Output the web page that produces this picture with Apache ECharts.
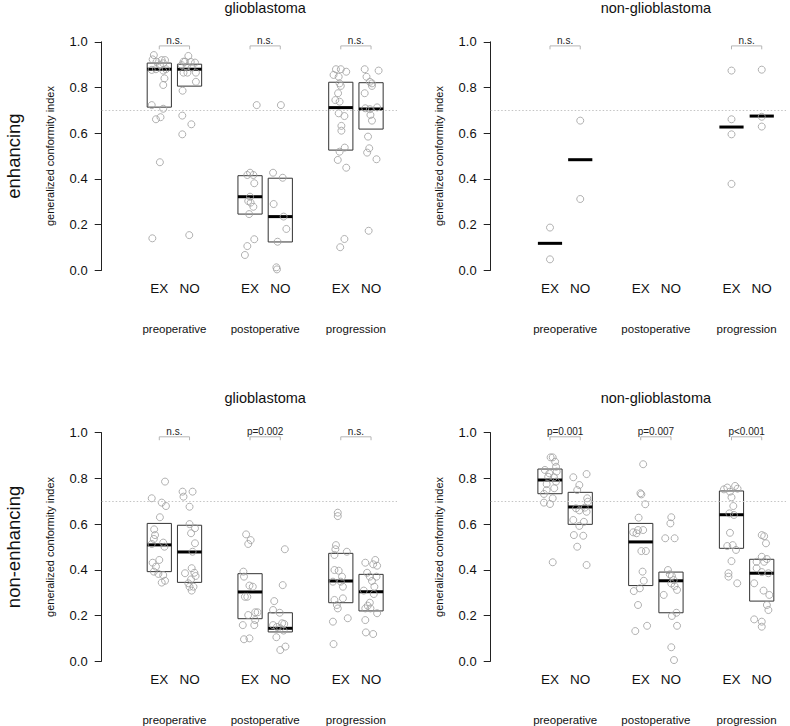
<!DOCTYPE html>
<html>
<head>
<meta charset="utf-8">
<script src="https://cdn.jsdelivr.net/npm/echarts@6/dist/echarts.min.js"></script>
<style>
html,body{margin:0;padding:0;background:#fff;}
#c{width:790px;height:726px;}
</style>
</head>
<body>
<div id="c"></div>
<script>
// ---------------- DATA ----------------
const arms = ['EX', 'NO', 'EX', 'NO', 'EX', 'NO'];
const groupPos = [1, 2, 4, 5, 7, 8];
const phases = ['preoperative', 'postoperative', 'progression'];
const phasePos = [1.5, 4.5, 7.5];
const colTitles = ['glioblastoma', 'non-glioblastoma'];
const rowTitles = ['enhancing', 'non-enhancing'];
const yTicks = [0, 0.2, 0.4, 0.6, 0.8, 1.0];
const threshold = 0.7;
const yLabel = 'generalized conformity index';

// glioblastoma / enhancing
const gEnhPreEX = [0.942,0.923,0.913,0.920,0.920,0.906,0.898,0.877,0.880,0.874,0.880,0.840,0.811,0.723,0.707,0.670,0.661,0.473,0.140];
const gEnhPreEXJit = [-0.18,-0.22,-0.09,0.08,0.19,0.13,0.02,-0.25,-0.11,0.13,0.22,0.17,0.13,-0.25,0.13,0.04,-0.11,0.02,-0.23];
const gEnhPreNO = [0.938,0.913,0.913,0.912,0.909,0.898,0.891,0.888,0.865,0.865,0.865,0.825,0.786,0.677,0.639,0.595,0.154];
const gEnhPreNOJit = [-0.04,-0.20,-0.15,0.04,0.18,-0.26,-0.09,0.07,-0.20,-0.07,0.21,0.21,-0.23,-0.24,0.06,-0.24,-0.01];
const gEnhPostEX = [0.723,0.427,0.417,0.417,0.381,0.322,0.303,0.296,0.278,0.246,0.136,0.106,0.067];
const gEnhPostEXJit = [0.22,0,-0.09,0.11,0.14,0,-0.06,0.02,0.11,-0.03,0.14,-0.09,-0.17];
const gEnhPostNO = [0.723,0.427,0.405,0.290,0.235,0.181,0.125,0.013,0.004];
const gEnhPostNOJit = [0.02,-0.24,0.08,-0.22,0.11,0.20,-0.09,-0.13,-0.11];
const gEnhProgEX = [0.880,0.880,0.869,0.855,0.847,0.818,0.807,0.775,0.745,0.738,0.687,0.675,0.632,0.611,0.537,0.519,0.483,0.449,0.137,0.101];
const gEnhProgEXJit = [-0.16,0,0.18,-0.24,-0.07,-0.04,0,-0.09,-0.18,-0.04,-0.07,0.12,0.02,0.02,0.13,-0.04,-0.10,0.18,0.12,-0.02];
const gEnhProgNO = [0.880,0.874,0.847,0.825,0.818,0.807,0.775,0.709,0.705,0.713,0.680,0.655,0.585,0.534,0.515,0.486,0.173];
const gEnhProgNOJit = [-0.21,0.25,-0.15,-0.04,0.03,0.03,-0.21,-0.19,-0.04,0.20,-0.02,0.03,-0.10,-0.06,-0.13,0.18,-0.08];
const gEnhBoxes = [[0.714,0.880,0.907],[0.806,0.880,0.902],[0.246,0.322,0.414],[0.124,0.235,0.403],[0.526,0.712,0.823],[0.618,0.706,0.821]];
const gEnhTests = ['n.s.', 'n.s.', 'n.s.'];

// non-glioblastoma / enhancing
const nEnhPreEX = [0.187,0.048];
const nEnhPreNO = [0.655,0.312];
const nEnhPostEX = [];
const nEnhPostNO = [];
const nEnhProgEX = [0.874,0.661,0.595,0.378];
const nEnhProgNO = [0.878,0.672,0.629];
const nEnhMedians = [0.118,0.484,null,null,0.627,0.675];
const nEnhTests = ['n.s.', null, 'n.s.'];

// glioblastoma / non-enhancing
const gNonPreEX = [0.786,0.713,0.694,0.679,0.630,0.577,0.552,0.535,0.519,0.501,0.513,0.443,0.431,0.414,0.392,0.382,0.377,0.344,0.352];
const gNonPreEXJit = [0.19,-0.25,0.08,0.22,0.02,-0.17,-0.14,-0.18,0.13,0.17,-0.25,0,-0.22,-0.11,-0.18,-0.03,0.13,0.08,0.19];
const gNonPreNO = [0.742,0.742,0.720,0.676,0.600,0.582,0.560,0.516,0.479,0.407,0.385,0.387,0.358,0.373,0.341,0.326,0.326,0.309];
const gNonPreNOJit = [-0.23,0.10,-0.20,0,0,0.18,0.05,0.18,0.10,0.07,-0.15,0.16,0.05,0.20,-0.04,0,0.13,0.07];
const gNonPostEX = [0.555,0.530,0.513,0.392,0.370,0.331,0.326,0.282,0.282,0.214,0.214,0.202,0.180,0.158,0.158,0.096,0.100];
const gNonPostEXJit = [-0.13,0.02,-0.06,-0.22,-0.20,-0.02,0.09,-0.17,-0.09,0.17,0.25,-0.06,0.17,-0.24,0.14,-0.20,-0.02];
const gNonPostNO = [0.490,0.333,0.263,0.224,0.212,0.158,0.166,0.163,0.144,0.134,0.105,0.049,0.064,0.150];
const gNonPostNOJit = [0.15,0.08,-0.20,-0.24,-0.02,-0.24,0.06,0.13,0,0.11,-0.13,0,0.17,-0.11];
const gNonProgEX = [0.650,0.635,0.508,0.490,0.479,0.465,0.399,0.396,0.370,0.348,0.326,0.348,0.268,0.275,0.246,0.231,0.173,0.188,0.075];
const gNonProgEXJit = [-0.10,-0.10,-0.16,-0.18,0.20,-0.21,-0.21,-0.07,0.04,-0.26,0.07,0,-0.21,0.07,-0.13,-0.10,-0.26,0.23,-0.24];
const gNonProgNO = [0.431,0.443,0.424,0.418,0.387,0.370,0.370,0.351,0.326,0.309,0.294,0.256,0.243,0.231,0.231,0.210,0.180,0.126,0.119];
const gNonProgNOJit = [-0.19,0.14,0.07,0.20,-0.13,-0.04,0.18,0.03,0.11,-0.24,0.09,-0.04,-0.11,-0.02,-0.19,0.20,-0.19,-0.17,0.07];
const gNonBoxes = [[0.392,0.509,0.603],[0.345,0.478,0.595],[0.186,0.303,0.383],[0.128,0.144,0.212],[0.256,0.351,0.472],[0.220,0.304,0.380]];
const gNonTests = ['n.s.', 'p=0.002', 'n.s.'];

// non-glioblastoma / non-enhancing
const nNonPreEX = [0.892,0.892,0.873,0.851,0.837,0.822,0.830,0.807,0.805,0.786,0.775,0.757,0.749,0.732,0.713,0.694,0.688,0.433];
const nNonPreEXJit = [0.02,0.09,0.17,0.20,-0.17,-0.02,0.22,-0.06,0.13,0.20,-0.11,0.14,-0.11,-0.20,0.09,-0.20,0,0.09];
const nNonPreNO = [0.819,0.805,0.771,0.749,0.713,0.698,0.669,0.672,0.660,0.654,0.618,0.610,0.592,0.552,0.549,0.501,0.421];
const nNonPreNOJit = [0.21,-0.23,-0.03,-0.10,0.23,0.25,-0.14,0.15,-0.03,0.21,-0.23,0.12,-0.03,-0.21,0.10,-0.10,0.21];
const nNonPostEX = [0.862,0.735,0.730,0.687,0.628,0.564,0.574,0.574,0.560,0.482,0.482,0.392,0.352,0.319,0.307,0.246,0.155,0.132];
const nNonPostEXJit = [0.08,-0.01,0.02,0.15,-0.07,-0.25,-0.09,0.08,-0.14,0.02,0.17,0.06,0.10,-0.03,-0.23,-0.09,0.21,-0.18];
const nNonPostNO = [0.630,0.603,0.538,0.538,0.399,0.380,0.373,0.355,0.340,0.329,0.312,0.290,0.212,0.198,0.155,0.061,0.005];
const nNonPostNOJit = [0.01,-0.02,-0.19,0.12,-0.10,-0.04,0.03,0.09,0.01,0.12,0.20,-0.24,0.18,0.03,0.20,0.01,0.10];
const nNonProgEX = [0.752,0.760,0.767,0.755,0.742,0.717,0.679,0.647,0.640,0.562,0.504,0.508,0.487,0.438,0.385,0.370,0.341];
const nNonProgEXJit = [-0.25,-0.14,0.12,0.20,-0.05,0,0.06,-0.07,0.08,-0.05,-0.14,0.04,0.15,0,-0.10,-0.10,0.19];
const nNonProgNO = [0.552,0.547,0.516,0.457,0.447,0.435,0.435,0.407,0.390,0.385,0.341,0.309,0.290,0.246,0.224,0.183,0.173,0.151];
const nNonProgNOJit = [0,0.08,0.14,0,0.17,-0.17,0.08,-0.17,0,0.22,-0.25,0.06,0.25,0.17,0.22,-0.25,0,0];
const nNonBoxes = [[0.733,0.793,0.841],[0.599,0.675,0.739],[0.331,0.522,0.603],[0.212,0.352,0.390],[0.494,0.641,0.745],[0.263,0.385,0.446]];
const nNonTests = ['p=0.001', 'p=0.007', 'p<0.001'];

// panels in order: top-left, top-right, bottom-left, bottom-right
const panelValues = [
  [gEnhPreEX, gEnhPreNO, gEnhPostEX, gEnhPostNO, gEnhProgEX, gEnhProgNO],
  [nEnhPreEX, nEnhPreNO, nEnhPostEX, nEnhPostNO, nEnhProgEX, nEnhProgNO],
  [gNonPreEX, gNonPreNO, gNonPostEX, gNonPostNO, gNonProgEX, gNonProgNO],
  [nNonPreEX, nNonPreNO, nNonPostEX, nNonPostNO, nNonProgEX, nNonProgNO]
];
const panelJitter = [
  [gEnhPreEXJit, gEnhPreNOJit, gEnhPostEXJit, gEnhPostNOJit, gEnhProgEXJit, gEnhProgNOJit],
  null,
  [gNonPreEXJit, gNonPreNOJit, gNonPostEXJit, gNonPostNOJit, gNonProgEXJit, gNonProgNOJit],
  [nNonPreEXJit, nNonPreNOJit, nNonPostEXJit, nNonPostNOJit, nNonProgEXJit, nNonProgNOJit]
];
const panelBoxes = [gEnhBoxes, null, gNonBoxes, nNonBoxes];
const panelMedians = [null, nEnhMedians, null, null];
const panelTests = [gEnhTests, nEnhTests, gNonTests, nNonTests];

// ---------------- LAYOUT ----------------
const gridLeft = [101.7, 490.7];
const gridTop = [41.8, 432.7];
const gridW = 295.3, gridH = 228.5;
const unitPx = 30.25;
const xMin = [-0.904, -0.96];
const FONT = '"Liberation Sans", Arial, Helvetica, sans-serif';
const boxHalf = 0.4;
const bracketY = 0.982, bracketTickY = 0.967, testTextY = 1.007;
const armLabelY = -0.079, phaseLabelY = -0.256;

const chart = echarts.init(document.getElementById('c'), null, {renderer: 'svg'});

const grids = [], xAxes = [], yAxes = [], series = [], graphics = [];

for (let p = 0; p < 4; p++) {
  const row = Math.floor(p / 2), col = p % 2;
  grids.push({left: gridLeft[col], top: gridTop[row], width: gridW, height: gridH, containLabel: false});
  xAxes.push({type: 'value', gridIndex: p, min: xMin[col], max: xMin[col] + gridW / unitPx, show: false,
    axisLine: {onZero: false}});
  yAxes.push({
    type: 'value', gridIndex: p, min: 0, max: 1, interval: 0.2, position: 'left',
    name: yLabel, nameLocation: 'middle', nameGap: 46, nameRotate: 90,
    nameTextStyle: {fontSize: 11, color: '#111', fontFamily: FONT},
    axisLine: {show: true, onZero: false, lineStyle: {color: '#222', width: 1}},
    axisTick: {show: true, inside: false, length: 7, lineStyle: {color: '#222', width: 1}},
    axisLabel: {show: true, margin: 14, fontSize: 13, color: '#111', fontFamily: FONT,
      formatter: v => v.toFixed(1)},
    splitLine: {show: false}
  });

  // boxes / medians
  const boxData = [];
  for (let g = 0; g < 6; g++) {
    if (panelBoxes[p]) {
      const b = panelBoxes[p][g];
      boxData.push([groupPos[g], b[0], b[1], b[2], 1]);
    } else if (panelMedians[p] && panelMedians[p][g] != null) {
      const m = panelMedians[p][g];
      boxData.push([groupPos[g], m, m, m, 0]);
    }
  }
  series.push({
    type: 'custom', xAxisIndex: p, yAxisIndex: p, z: 2, silent: true,
    data: boxData,
    renderItem: (params, api) => {
      const x = api.value(0), q1 = api.value(1), med = api.value(2), q3 = api.value(3), hasBox = api.value(4);
      const ch = [];
      if (hasBox) {
        const a = api.coord([x - boxHalf, q3]), b = api.coord([x + boxHalf, q1]);
        ch.push({type: 'rect', shape: {x: a[0], y: a[1], width: b[0] - a[0], height: b[1] - a[1]},
          style: {fill: 'none', stroke: '#333', lineWidth: 1}});
      }
      const m1 = api.coord([x - boxHalf, med]), m2 = api.coord([x + boxHalf, med]);
      ch.push({type: 'line', shape: {x1: m1[0], y1: m1[1], x2: m2[0], y2: m2[1]},
        style: {stroke: '#000', lineWidth: 3}});
      return {type: 'group', children: ch};
    }
  });

  // points
  const pts = [];
  panelValues[p].forEach((vals, g) => {
    vals.forEach((v, i) => {
      const j = panelJitter[p] ? panelJitter[p][g][i] : 0;
      pts.push([groupPos[g] + j, v]);
    });
  });
  series.push({
    type: 'scatter', xAxisIndex: p, yAxisIndex: p, z: 3, silent: true,
    symbol: 'circle', symbolSize: 7,
    itemStyle: {color: 'rgba(255,255,255,0)', borderColor: '#9d9d9d', borderWidth: 1},
    data: pts,
    markLine: {
      silent: true, symbol: ['none', 'none'], label: {show: false},
      lineStyle: {color: '#c4c4c4', width: 1, type: [1.5, 2]},
      data: [{yAxis: threshold}]
    }
  });

  // brackets with test labels
  const brData = [];
  panelTests[p].forEach((t, k) => { if (t) brData.push([groupPos[2 * k], groupPos[2 * k + 1], k]); });
  series.push({
    type: 'custom', xAxisIndex: p, yAxisIndex: p, z: 4, silent: true, clip: false,
    data: brData,
    renderItem: (params, api) => {
      const x1 = api.value(0), x2 = api.value(1), k = api.value(2);
      const a = api.coord([x1, bracketTickY]), b = api.coord([x1, bracketY]);
      const c = api.coord([x2, bracketY]), d = api.coord([x2, bracketTickY]);
      const t = api.coord([(x1 + x2) / 2, testTextY]);
      return {type: 'group', children: [
        {type: 'polyline', shape: {points: [a, b, c, d]}, style: {fill: 'none', stroke: '#b5b5b5', lineWidth: 1}},
        {type: 'text', x: t[0], y: t[1], style: {text: panelTests[p][k], fill: '#222',
          font: '10px ' + FONT, textAlign: 'center', textVerticalAlign: 'middle', align: 'center', verticalAlign: 'middle'}}
      ]};
    }
  });

  // category labels (EX/NO and phases)
  const lblData = [];
  groupPos.forEach((x, g) => lblData.push([x, armLabelY, 0, g]));
  phasePos.forEach((x, k) => lblData.push([x, phaseLabelY, 1, k]));
  series.push({
    type: 'custom', xAxisIndex: p, yAxisIndex: p, z: 4, silent: true, clip: false,
    data: lblData,
    renderItem: (params, api) => {
      const pt = api.coord([api.value(0), api.value(1)]);
      const kind = api.value(2), idx = api.value(3);
      const text = kind === 0 ? arms[idx] : phases[idx];
      const fs = kind === 0 ? 13.5 : 11.5;
      return {type: 'text', x: pt[0], y: pt[1], style: {text: text, fill: '#111',
        font: fs + 'px ' + FONT, textAlign: 'center', textVerticalAlign: 'middle', align: 'center', verticalAlign: 'middle'}};
    }
  });

  // panel title
  const cx = gridLeft[col] + (phasePos[1] - xMin[col]) * unitPx;
  graphics.push({type: 'text', x: cx, y: gridTop[row] - 34.3, silent: true,
    style: {text: colTitles[col], fill: '#111', font: '14.5px ' + FONT,
      textAlign: 'center', textVerticalAlign: 'middle', align: 'center', verticalAlign: 'middle'}});
}

// row titles
for (let r = 0; r < 2; r++) {
  graphics.push({type: 'text', x: 13.5, y: gridTop[r] + gridH / 2, rotation: Math.PI / 2, silent: true,
    style: {text: rowTitles[r], fill: '#111', font: '18.5px ' + FONT,
      textAlign: 'center', textVerticalAlign: 'middle', align: 'center', verticalAlign: 'middle'}});
}

chart.setOption({
  animation: false,
  backgroundColor: '#fff',
  grid: grids,
  xAxis: xAxes,
  yAxis: yAxes,
  series: series,
  graphic: graphics
});
</script>
</body>
</html>
